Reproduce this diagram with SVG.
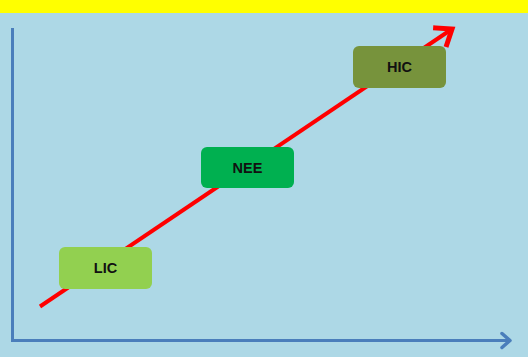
<svg xmlns="http://www.w3.org/2000/svg" width="528" height="357" viewBox="0 0 528 357">
<style>
.box{stroke:none}
.lbl{font-family:"Liberation Sans",Arial,sans-serif;font-weight:bold;font-size:14.5px;fill:#111;text-anchor:middle;dominant-baseline:central}
</style>
<defs>
<marker id="redhead" markerUnits="userSpaceOnUse" markerWidth="34" markerHeight="34" refX="17" refY="17" orient="auto" viewBox="0 0 34 34">
<path d="M4,7 L17,17 L4,27" fill="none" stroke="#FF0000" stroke-width="5" stroke-linecap="square" stroke-linejoin="miter"/>
</marker>
<marker id="bluehead" markerUnits="userSpaceOnUse" markerWidth="24" markerHeight="24" refX="12" refY="12" orient="auto" viewBox="0 0 24 24">
<path d="M4,5 L12,12 L4,19" fill="none" stroke="#4A7EBB" stroke-width="3.5" stroke-linecap="round" stroke-linejoin="round"/>
</marker>
</defs>
<rect x="0" y="0" width="528" height="357" fill="#ADD8E6"/>
<rect x="0" y="0" width="528" height="13" fill="#FFFF00"/>
<g id="connectors">
<path d="M12.5,28 L12.5,340.5 L510,340.5" fill="none" stroke="#4A7EBB" stroke-width="3" marker-end="url(#bluehead)"/>
<line x1="40" y1="306.5" x2="452" y2="29" stroke="#FF0000" stroke-width="4" marker-end="url(#redhead)"/>
</g>
<g id="LIC">
<rect class="box" x="59" y="247" width="93" height="42" rx="6" fill="#92D050"/>
<text class="lbl" x="105.5" y="268">LIC</text>
</g>
<g id="NEE">
<rect class="box" x="201" y="147" width="93" height="41" rx="6" fill="#00B050"/>
<text class="lbl" x="247.5" y="167.5">NEE</text>
</g>
<g id="HIC">
<rect class="box" x="353" y="46" width="93" height="42" rx="6" fill="#77933C"/>
<text class="lbl" x="399.5" y="67">HIC</text>
</g>
</svg>
